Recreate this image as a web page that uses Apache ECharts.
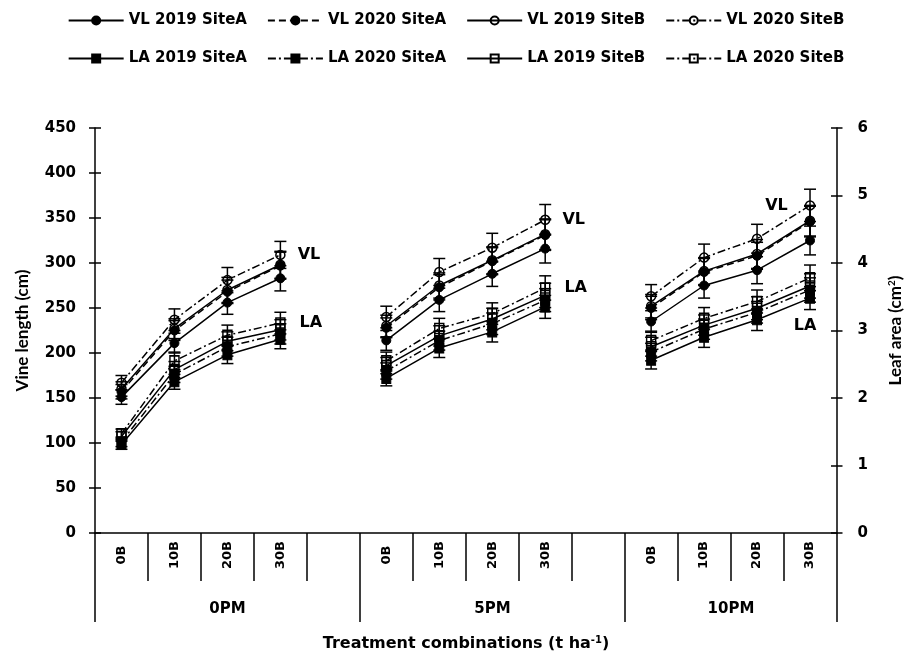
<!DOCTYPE html>
<html><head><meta charset="utf-8">
<script src="https://cdn.jsdelivr.net/npm/echarts@6/dist/echarts.min.js"></script>
<style>html,body{margin:0;padding:0;background:#fff}#c{width:912px;height:661px}</style>
</head><body><div id="c"></div>
<script>
// ---- data ----
const categories = ['0B','10B','20B','30B','','0B','10B','20B','30B','','0B','10B','20B','30B'];
const groupLabels = ['0PM','5PM','10PM'];
const groupCenters = [2.5, 7.5, 12];
const groupEdges = [0, 5, 10, 14];
const vlTicks = [0, 450, 50];
const laTicks = [0, 6, 1];

const VL_2019_SiteA = [151,211,256,283,null,214,259,288,316,null,235,275,292,325];
const VL_2020_SiteA = [157,225,268,297,null,228,273,302,331,null,250,290,308,346];
const VL_2019_SiteB = [160,227,270,298,null,230,275,303,332,null,252,291,310,347];
const VL_2020_SiteB = [167,237,281,309,null,240,290,317,348,null,263,306,327,364];
const VL_2019_SiteA_err = [8,11,13,14,null,11,13,14,16,null,12,14,15,16];
const VL_2020_SiteA_err = [8,11,13,15,null,11,14,15,17,null,13,15,15,17];
const VL_2019_SiteB_err = [8,11,14,15,null,12,14,15,17,null,13,15,16,17];
const VL_2020_SiteB_err = [8,12,14,15,null,12,15,16,17,null,13,15,16,18];

const LA_2019_SiteA = [1.31,2.24,2.64,2.87,null,2.29,2.74,2.98,3.35,null,2.56,2.90,3.16,3.48];
const LA_2020_SiteA = [1.35,2.35,2.76,2.95,null,2.40,2.85,3.10,3.45,null,2.68,3.02,3.27,3.60];
const LA_2019_SiteB = [1.43,2.42,2.84,3.01,null,2.48,2.92,3.17,3.52,null,2.76,3.08,3.33,3.66];
const LA_2020_SiteB = [1.47,2.55,2.93,3.11,null,2.55,3.03,3.25,3.63,null,2.85,3.18,3.43,3.78];
const LA_2019_SiteA_err = [0.07,0.11,0.13,0.14,null,0.11,0.14,0.15,0.17,null,0.13,0.15,0.16,0.17];
const LA_2020_SiteA_err = [0.07,0.12,0.14,0.15,null,0.12,0.14,0.16,0.17,null,0.13,0.15,0.16,0.18];
const LA_2019_SiteB_err = [0.07,0.12,0.14,0.15,null,0.12,0.15,0.16,0.18,null,0.14,0.15,0.17,0.18];
const LA_2020_SiteB_err = [0.07,0.13,0.15,0.16,null,0.13,0.15,0.16,0.18,null,0.14,0.16,0.17,0.19];

const vlNames = ['VL 2019 SiteA','VL 2020 SiteA','VL 2019 SiteB','VL 2020 SiteB'];
const laNames = ['LA 2019 SiteA','LA 2020 SiteA','LA 2019 SiteB','LA 2020 SiteB'];

// ---- styling ----
const WIDE = 'DejaVu Sans';
const NARROW = 'Lato';
const txt = (size, fam) => ({fontFamily: fam || WIDE, fontWeight: 'bold', fontSize: size, color: '#000'});
const DASH = [7, 4];
const DASHDOT = [8, 3, 2, 3];
const GRID = {left: 95, right: 75, top: 128, bottom: 128};

function lineSeries(name, vals, yIdx, symbol, filled, dash, labels) {
  const data = vals.map((v, i) => {
    if (labels && labels[i]) return {value: v, label: Object.assign({show: true}, txt(16), labels[i])};
    return v;
  });
  return {
    name, type: 'line', xAxisIndex: 0, yAxisIndex: yIdx, data,
    symbol, symbolSize: symbol === 'rect' ? [9, 10] : 9, showSymbol: true, connectNulls: false,
    lineStyle: {color: '#000', width: 1.5, type: dash},
    itemStyle: filled ? {color: '#000', borderColor: '#000', borderWidth: 1}
                      : {color: 'rgba(255,255,255,0)', borderColor: '#000', borderWidth: 1.5},
    z: 3, animation: false, silent: true
  };
}
function errSeries(vals, errs, yIdx) {
  const data = [];
  vals.forEach((v, i) => { if (v != null) data.push([i, v - errs[i], v + errs[i]]); });
  return {
    type: 'custom', xAxisIndex: 0, yAxisIndex: yIdx, data, silent: true, z: 2, animation: false,
    encode: {x: 0, y: [1, 2]},
    renderItem(params, api) {
      const x = api.value(0);
      const lo = api.coord([x, api.value(1)]);
      const hi = api.coord([x, api.value(2)]);
      const w = 6, st = {stroke: '#000', lineWidth: 1.5};
      return {type: 'group', children: [
        {type: 'line', shape: {x1: lo[0], y1: lo[1], x2: hi[0], y2: hi[1]}, style: st},
        {type: 'line', shape: {x1: lo[0]-w, y1: lo[1], x2: lo[0]+w, y2: lo[1]}, style: st},
        {type: 'line', shape: {x1: hi[0]-w, y1: hi[1], x2: hi[0]+w, y2: hi[1]}, style: st}
      ]};
    }
  };
}

const vlLabels = {3: {formatter: 'VL', position: 'right', distance: 12},
                  8: {formatter: 'VL', position: 'right', distance: 12},
                  13: {formatter: 'VL', position: 'left', distance: 17}};
const laLabelsTop = {3: {formatter: 'LA', position: 'right', distance: 14},
                     8: {formatter: 'LA', position: 'right', distance: 14}};
const laLabelsBottom = {13: {formatter: 'LA', position: 'bottom', distance: 14, offset: [-5, 0]}};

const axisLineStyle = {color: '#000', width: 1.5};
const supStyle = Object.assign({}, txt(10), {padding: [0, 0, 8, 0]});

const legendBase = {left: 'center', itemWidth: 55, itemHeight: 10, itemGap: 20,
  selectedMode: false, textStyle: txt(15)};

const option = {
  backgroundColor: '#fff',
  animation: false,
  legend: [
    Object.assign({top: 8, data: vlNames}, legendBase),
    Object.assign({top: 46, data: laNames}, legendBase)
  ],
  grid: [Object.assign({}, GRID), Object.assign({}, GRID)],
  xAxis: [
    {type: 'category', gridIndex: 0, position: 'bottom', data: categories, boundaryGap: true,
     axisLine: {show: true, lineStyle: axisLineStyle},
     axisTick: {show: true, length: 48, interval: 0, lineStyle: axisLineStyle},
     axisLabel: {interval: 0, rotate: 90, margin: 6,
       formatter: (v) => '{c|' + v + '}',
       rich: {c: Object.assign({width: 32, align: 'center'}, txt(13))}},
     splitLine: {show: false}},
    {type: 'value', gridIndex: 1, position: 'bottom', min: 0, max: 14, interval: 1,
     axisLine: {show: false},
     axisTick: {show: true, length: 89, customValues: groupEdges, lineStyle: axisLineStyle},
     axisLabel: Object.assign({show: true, customValues: groupCenters, margin: 69,
       formatter: (v) => groupLabels[groupCenters.indexOf(v)] || ''}, txt(15)),
     splitLine: {show: false},
     name: 'Treatment combinations (t ha{sup|-1})', nameLocation: 'middle', nameGap: 102,
     nameTextStyle: Object.assign({}, txt(16), {rich: {sup: supStyle}})}
  ],
  yAxis: [
    {type: 'value', gridIndex: 0, position: 'left', min: vlTicks[0], max: vlTicks[1], interval: vlTicks[2],
     axisLine: {show: true, lineStyle: axisLineStyle},
     axisTick: {show: true, length: 6, lineStyle: axisLineStyle},
     axisLabel: Object.assign({margin: 19}, txt(15)),
     splitLine: {show: false},
     name: 'Vine length (cm)', nameLocation: 'middle', nameGap: 64, nameTextStyle: txt(17, NARROW)},
    {type: 'value', gridIndex: 0, position: 'right', min: laTicks[0], max: laTicks[1], interval: laTicks[2],
     axisLine: {show: true, lineStyle: axisLineStyle},
     axisTick: {show: true, length: 6, lineStyle: axisLineStyle},
     axisLabel: Object.assign({margin: 21}, txt(15)),
     splitLine: {show: false},
     name: 'Leaf area (cm{sup|2})', nameLocation: 'middle', nameGap: 50,
     nameTextStyle: Object.assign({}, txt(17, NARROW), {rich: {sup: Object.assign({}, supStyle, {fontFamily: NARROW})}})},
    {type: 'value', gridIndex: 1, position: 'left', min: vlTicks[0], max: vlTicks[1], interval: vlTicks[2],
     axisLine: {show: false}, axisLabel: {show: false}, splitLine: {show: false},
     axisTick: {show: true, inside: true, length: 6, lineStyle: axisLineStyle}},
    {type: 'value', gridIndex: 1, position: 'right', min: laTicks[0], max: laTicks[1], interval: laTicks[2],
     axisLine: {show: false}, axisLabel: {show: false}, splitLine: {show: false},
     axisTick: {show: true, inside: true, length: 6, lineStyle: axisLineStyle}}
  ],
  series: [
    errSeries(VL_2019_SiteA, VL_2019_SiteA_err, 0),
    errSeries(VL_2020_SiteA, VL_2020_SiteA_err, 0),
    errSeries(VL_2019_SiteB, VL_2019_SiteB_err, 0),
    errSeries(VL_2020_SiteB, VL_2020_SiteB_err, 0),
    errSeries(LA_2019_SiteA, LA_2019_SiteA_err, 1),
    errSeries(LA_2020_SiteA, LA_2020_SiteA_err, 1),
    errSeries(LA_2019_SiteB, LA_2019_SiteB_err, 1),
    errSeries(LA_2020_SiteB, LA_2020_SiteB_err, 1),
    lineSeries(vlNames[0], VL_2019_SiteA, 0, 'circle', true, 'solid'),
    lineSeries(vlNames[1], VL_2020_SiteA, 0, 'circle', true, DASH),
    lineSeries(vlNames[2], VL_2019_SiteB, 0, 'circle', false, 'solid'),
    lineSeries(vlNames[3], VL_2020_SiteB, 0, 'circle', false, DASHDOT, vlLabels),
    lineSeries(laNames[0], LA_2019_SiteA, 1, 'rect', true, 'solid', laLabelsBottom),
    lineSeries(laNames[1], LA_2020_SiteA, 1, 'rect', true, DASHDOT),
    lineSeries(laNames[2], LA_2019_SiteB, 1, 'rect', false, 'solid'),
    lineSeries(laNames[3], LA_2020_SiteB, 1, 'rect', false, DASHDOT, laLabelsTop)
  ]
};
const chart = echarts.init(document.getElementById('c'), null, {renderer: 'canvas'});
chart.setOption(option);
</script>
</body></html>
